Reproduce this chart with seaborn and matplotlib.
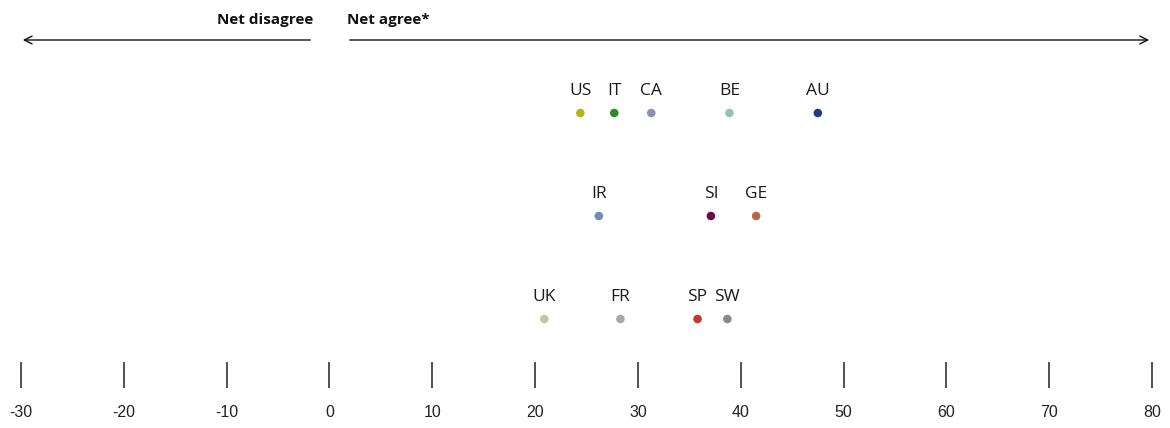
import matplotlib
matplotlib.use("Agg")
import matplotlib.pyplot as plt
import seaborn as sns
import pandas as pd

# --- data ---
countries = ["US", "IT", "CA", "BE", "AU",
             "IR", "SI", "GE",
             "UK", "FR", "SP", "SW"]
net_agree = [24.4, 27.7, 31.3, 38.9, 47.5,
             26.2, 37.1, 41.5,
             20.9, 28.3, 35.8, 38.7]
row = [0, 0, 0, 0, 0,
       1, 1, 1,
       2, 2, 2, 2]
colors = ["#b5b519", "#2f8a25", "#8e90b8", "#90c4ae", "#1c3e80",
          "#6b8fb0", "#6a0a50", "#b06b40",
          "#c6c59b", "#a5a9a9", "#c0392e", "#8a8a8c"]
xticks = list(range(-30, 81, 10))

df = pd.DataFrame({"country": countries, "value": net_agree, "row": row})
palette = dict(zip(countries, colors))

sns.set_style("white")
plt.rcParams["font.family"] = ["Open Sans", "DejaVu Sans"]

fig = plt.figure(figsize=(11.7, 4.28), dpi=100)
ax = fig.add_axes([0, 0, 1, 1])

sns.scatterplot(data=df, x="value", y="row", hue="country", palette=palette,
                s=38, edgecolor="none", legend=False, ax=ax)

for _, r in df.iterrows():
    ax.annotate(r["country"], (r["value"], r["row"]), xytext=(0, 13),
                textcoords="offset points", ha="center", va="baseline",
                fontsize=12.5, color="#1a1a1a")

# scale: -30 -> 21px, 80 -> 1152px ; rows at 113, 216, 319 px
ppu = (1152 - 21) / 110
ax.set_xlim(-30 - 21 / ppu, 80 + (1170 - 1152) / ppu)
ax.set_ylim((428 - 113) / 103, -113 / 103)

# tick marks and labels
ax.vlines(xticks, 2.42, 2.67, color="#222222", linewidth=1.1)
for t in xticks:
    ax.text(t, 2.91, str(t), ha="center", va="center", fontsize=11.5,
            family=["Liberation Sans", "DejaVu Sans"], color="#222222")

# direction arrows and headers
y_arrow = (40 - 113) / 103
ax.annotate("", xy=(-30.1, y_arrow), xytext=(-1.6, y_arrow),
            arrowprops=dict(arrowstyle="->", color="#111111", lw=1, mutation_scale=14))
ax.annotate("", xy=(80.0, y_arrow), xytext=(1.7, y_arrow),
            arrowprops=dict(arrowstyle="->", color="#111111", lw=1, mutation_scale=14))
y_head = (20 - 113) / 103
ax.text(-1.6, y_head, "Net disagree", ha="right", va="center",
        fontsize=11, fontweight="bold", color="#111111")
ax.text(1.7, y_head, "Net agree*", ha="left", va="center",
        fontsize=11, fontweight="bold", color="#111111")

ax.axis("off")
fig.savefig("out.png", dpi=100)
